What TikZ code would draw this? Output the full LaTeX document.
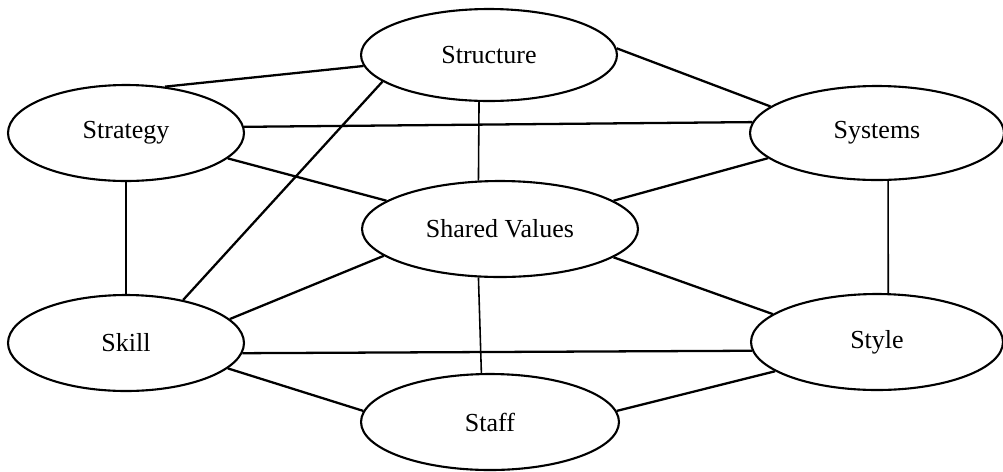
\documentclass[tikz,border=0pt]{standalone}
\usepackage{fontspec}
\setmainfont{Liberation Serif}
\usetikzlibrary{shapes.geometric}

\begin{document}
\begin{tikzpicture}[x=0.02cm,y=-0.02cm,
    sbox/.style={draw, ellipse, line width=1.2pt, inner sep=0pt, font=\fontsize{14.8}{17}\selectfont},
    link/.style={line width=1.3pt},
    thinlink/.style={line width=0.9pt}]
    \useasboundingbox (0,0) rectangle (1003,471);

    % Draw the seven ellipses
    \node[sbox, minimum width=5.12cm, minimum height=1.84cm] (structure) at (489,55) {Structure};
    \node[sbox, minimum width=4.72cm, minimum height=1.92cm] (strategy) at (126,133) {Strategy};
    \node[sbox, minimum width=5.08cm, minimum height=1.88cm] (systems) at (877,133) {Systems};
    \node[sbox, minimum width=5.52cm, minimum height=1.92cm] (shared) at (500,229) {Shared Values};
    \node[sbox, minimum width=4.72cm, minimum height=1.92cm] (skill) at (126,343) {Skill};
    \node[sbox, minimum width=5.04cm, minimum height=1.92cm] (style) at (877,342) {Style};
    \node[sbox, minimum width=5.16cm, minimum height=1.92cm] (staff) at (490,422) {Staff};

    % Outer ring
    \draw[link] (strategy.50) -- (structure.185);
    \draw[link] (structure.3.6) -- (systems.166);
    \draw[thinlink] (strategy.south) -- (skill.north);
    \draw[thinlink] (systems.283) -- (style.77);
    \draw[link] (skill.346) -- (staff.175);
    \draw[link] (style.196) -- (staff.5.8);

    % Cross links
    \draw[link] (strategy.3.8) -- (systems.175.4);
    \draw[link] (skill.355.2) -- (style.184.6);
    \draw[link] (structure.194.7) -- (skill.37.6);

    % Links to shared values
    \draw[thinlink] (structure.258) -- (shared.114);
    \draw[link] (strategy.346.3) -- (shared.166.2);
    \draw[link] (systems.193.3) -- (shared.14.4);
    \draw[link] (shared.193.8) -- (skill.13.2);
    \draw[link] (shared.346.5) -- (style.165.3);
    \draw[thinlink] (shared.246.4) -- (staff.100.4);

\end{tikzpicture}
\end{document}
